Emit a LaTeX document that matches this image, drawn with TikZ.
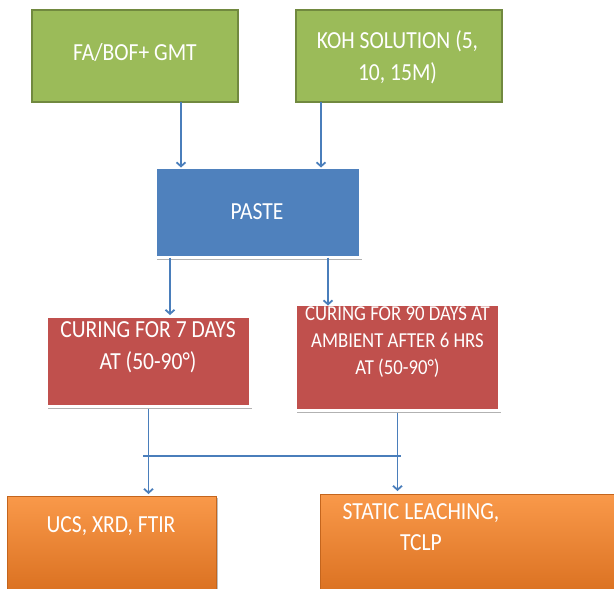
\documentclass[tikz,border=0pt]{standalone}
\usepackage{fontspec}
\setmainfont{Carlito}[FakeStretch=0.88]
\usetikzlibrary{arrows.meta,shadows,calc}
\definecolor{gfill}{HTML}{9BBB59}
\definecolor{gborder}{HTML}{71893F}
\definecolor{bfill}{HTML}{4F81BD}
\definecolor{rfill}{HTML}{C0504D}
\definecolor{otop}{HTML}{F9994A}
\definecolor{obot}{HTML}{DA7020}
\definecolor{acol}{HTML}{4A7EBB}
\tikzset{
  box/.style={rectangle, inner sep=0pt, outer sep=0pt},
  greenbox/.style={box, fill=gfill, draw=gborder, line width=1.2pt},
  bluebox/.style={box, fill=bfill, draw=white, line width=3pt,
    drop shadow={shadow xshift=1.5pt, shadow yshift=-2pt, fill=black, opacity=0.3}},
  redbox/.style={box, fill=rfill, draw=white, line width=3pt,
    drop shadow={shadow xshift=1.5pt, shadow yshift=-2pt, fill=black, opacity=0.3}},
  orangebox/.style={box, top color=otop, bottom color=obot, draw=obot!90!black, line width=0.6pt,
    drop shadow={shadow xshift=1pt, shadow yshift=-1.5pt, fill=black, opacity=0.25}},
  txt/.style={text=white, align=center, inner sep=0pt, font=\fontsize{24.5}{31.5}\selectfont},
  smalltxt/.style={txt, font=\fontsize{21.3}{27}\selectfont},
  conn/.style={draw=acol, line width=1.8pt},
  arr/.style={conn, -{Straight Barb[length=4pt,width=9pt]}}
}
\begin{document}
\begin{tikzpicture}[x=1pt,y=-1pt]
\useasboundingbox (0,0) rectangle (614,589);
\clip (0,0) rectangle (614,589);
% boxes
\node[greenbox, minimum width=206pt, minimum height=92pt] (fa) at (135,56) {};
\node[greenbox, minimum width=206pt, minimum height=92pt] (koh) at (399,56) {};
\node[bluebox, minimum width=205pt, minimum height=90pt] (paste) at (258,212.5) {};
\node[redbox, minimum width=204pt, minimum height=90pt] (cur1) at (148.5,361.5) {};
\node[redbox, minimum width=204pt, minimum height=106pt] (cur2) at (397.5,357.5) {};
\node[orangebox, minimum width=209pt, minimum height=98pt] (o1) at (112,545) {};
\node[orangebox, minimum width=320pt, minimum height=102pt] (o2) at (480,545) {};
% texts
\node[txt] (tfa) at (135,53) {FA/BOF+ GMT};
\node[txt] (tkoh) at (397.5,57) {KOH SOLUTION (5,\\10, 15M)};
\node[txt] (tpaste) at (257,212) {PASTE};
\node[txt] (tcur1) at (148,347) {CURING FOR 7 DAYS\\AT (50-90°)};
\node[smalltxt] (tcur2) at (397.5,342) {CURING FOR 90 DAYS AT\\AMBIENT AFTER 6 HRS\\AT (50-90°)};
\node[txt] (to1) at (111,526) {UCS, XRD, FTIR};
\node[txt] (to2) at (421,527) {STATIC LEACHING,\\TCLP};
% connectors
\draw[arr] ([xshift=46pt]fa.south) -- ([xshift=46pt]fa.south |- paste.north);
\draw[arr] ([xshift=-78pt]koh.south) -- ([xshift=-78pt]koh.south |- paste.north);
\draw[arr, shorten >=1.5pt] ([xshift=-88pt]paste.south) -- ([xshift=-88pt]paste.south |- cur1.north);
\draw[arr, shorten >=-1pt] ([xshift=70pt]paste.south) -- ([xshift=70pt]paste.south |- cur2.north);
\coordinate (hl) at (143,456);
\coordinate (hr) at (401,456);
\draw[conn] (hl) -- (hr);
\draw[arr, shorten >=2pt] ([yshift=-2pt]cur1.south) -- (cur1.south |- o1.north);
\draw[arr, shorten >=3pt] ([yshift=-2pt]cur2.south) -- (cur2.south |- o2.north);
\end{tikzpicture}
\end{document}
